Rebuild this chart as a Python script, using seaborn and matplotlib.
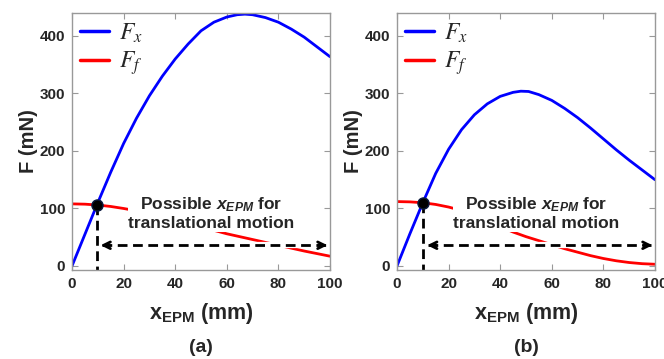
import pandas as pd
import numpy as np
import matplotlib
matplotlib.use('Agg')
import matplotlib.pyplot as plt
from matplotlib.font_manager import FontProperties
import seaborn as sns

# Curves (x in mm, force in mN)
x_a = [0, 5, 10, 15, 20, 25, 30, 35, 40, 45, 50, 55, 60, 64, 67, 70, 75, 80, 85, 90, 95, 100]
fx_a = [0, 55, 110, 163, 213, 257, 296, 330, 360, 386, 409, 424, 433, 437, 438, 437,
        432, 424, 412, 398, 381, 364]
ff_x_a = [0, 5, 10, 15, 20, 25, 30, 35, 40, 45, 50, 55, 60, 65, 70, 75, 80, 85, 90, 95, 100]
ff_a = [108, 107.5, 106, 103.5, 100, 96, 92, 87.5, 82, 76, 69, 62, 56, 51, 46, 41, 36,
        31, 26, 21.5, 17]

x_b = [0, 5, 10, 15, 20, 25, 30, 35, 40, 45, 48, 51, 55, 60, 65, 70, 75, 80, 85, 90, 95, 100]
fx_b = [0, 56, 110, 161, 203, 237, 263, 282, 295, 302, 304, 303.5, 298, 288, 274, 258,
        240, 221, 202, 184, 167, 150]
ff_x_b = [0, 5, 10, 15, 20, 25, 30, 35, 40, 45, 50, 55, 60, 65, 70, 75, 80, 85, 90, 95, 100]
ff_b = [112, 111.5, 110, 107, 102.5, 96.5, 89, 79, 68.5, 59, 51, 44, 37, 30, 24, 18, 13,
        9, 6, 4, 3]

# Intersection points and range marker
cross_a = (9.6, 106)
cross_b = (10.2, 110)
arrow_y = 36
panel_tags = ['(a)', '(b)']

sns.set_style('ticks')
plt.rcParams['font.family'] = ['Liberation Sans', 'DejaVu Sans']
plt.rcParams['mathtext.fontset'] = 'custom'
plt.rcParams['mathtext.rm'] = 'Liberation Sans:bold'
plt.rcParams['mathtext.it'] = 'Liberation Sans:bold:italic'
plt.rcParams['mathtext.bf'] = 'Liberation Sans:bold'

fig = plt.figure(figsize=(6.64, 3.59), dpi=100)
ax1 = fig.add_axes([72 / 664, 89 / 359, 258 / 664, 257 / 359])
ax2 = fig.add_axes([397 / 664, 89 / 359, 258 / 664, 257 / 359])

panels = [
    (ax1, x_a, fx_a, ff_x_a, ff_a, cross_a, panel_tags[0]),
    (ax2, x_b, fx_b, ff_x_b, ff_b, cross_b, panel_tags[1]),
]

for ax, xs, fx, fxx, ff, cross, tag in panels:
    df_fx = pd.DataFrame({'x': xs, 'F': fx})
    df_ff = pd.DataFrame({'x': fxx, 'F': ff})
    sns.lineplot(data=df_fx, x='x', y='F', ax=ax, color='#0000ff', lw=2, label='$F_x$')
    sns.lineplot(data=df_ff, x='x', y='F', ax=ax, color='#ff0000', lw=2, label='$F_f$')

    # vertical dashed marker from the crossing
    ax.plot([cross[0], cross[0]], [cross[1], -7], color='black', lw=2, ls=(0, (3.5, 2)))
    ax.plot([cross[0]], [cross[1]], 'o', color='black', mec='#0a1a40', ms=8, zorder=5)

    # dashed range arrow (white band under it hides the curve, as in the figure)
    x0, x1 = cross[0] + 2, 98.5
    ax.plot([x0, x1], [arrow_y, arrow_y], color='white', lw=4.5, zorder=3)
    ax.plot([x0, x1], [arrow_y, arrow_y], color='black', lw=2, ls=(0, (3.5, 2)), zorder=4)
    for start, end in [(x0 + 3, x0 - 0.5), (x1 - 3, x1 + 0.5)]:
        ax.annotate('', xy=(end, arrow_y), xytext=(start, arrow_y), zorder=4,
                    arrowprops=dict(arrowstyle='->', lw=2, color='black',
                                    mutation_scale=12, shrinkA=0, shrinkB=0))

    ax.text(54, 92, 'Possible $x_{EPM}$ for\ntranslational motion',
            ha='center', va='center', fontsize=12.5, fontweight='bold',
            linespacing=1.2, zorder=4,
            bbox=dict(facecolor='white', edgecolor='none', pad=0.5))

    ax.set_xlim(0, 100)
    ax.set_ylim(-7, 440)
    ax.set_xticks([0, 20, 40, 60, 80, 100])
    ax.set_yticks([0, 100, 200, 300, 400])
    ax.tick_params(direction='in', top=True, right=True, length=4,
                   color='#999999', labelsize=11, pad=5)
    for lab in ax.get_xticklabels() + ax.get_yticklabels():
        lab.set_fontweight('bold')
    for sp in ax.spines.values():
        sp.set_visible(True)
        sp.set_color('#999999')
        sp.set_linewidth(1)

    ax.set_xlabel('x$_{\\mathrm{EPM}}$ (mm)', fontsize=15.5, fontweight='bold', labelpad=7)
    ax.set_ylabel('F (mN)', fontsize=14.5, fontweight='bold', labelpad=1)
    ax.text(0.5, -0.30, tag, transform=ax.transAxes, ha='center', va='center',
            fontsize=14, fontweight='bold')

    leg = ax.legend(loc='upper left', frameon=False, handlelength=1.2,
                    borderaxespad=0.15, borderpad=0.2, labelspacing=0.2,
                    handletextpad=0.45,
                    prop=FontProperties(family='DejaVu Serif', size=17, weight='normal',
                                        math_fontfamily='stix'))
    for line in leg.get_lines():
        line.set_linewidth(2.5)

fig.savefig('out.png', dpi=100)
